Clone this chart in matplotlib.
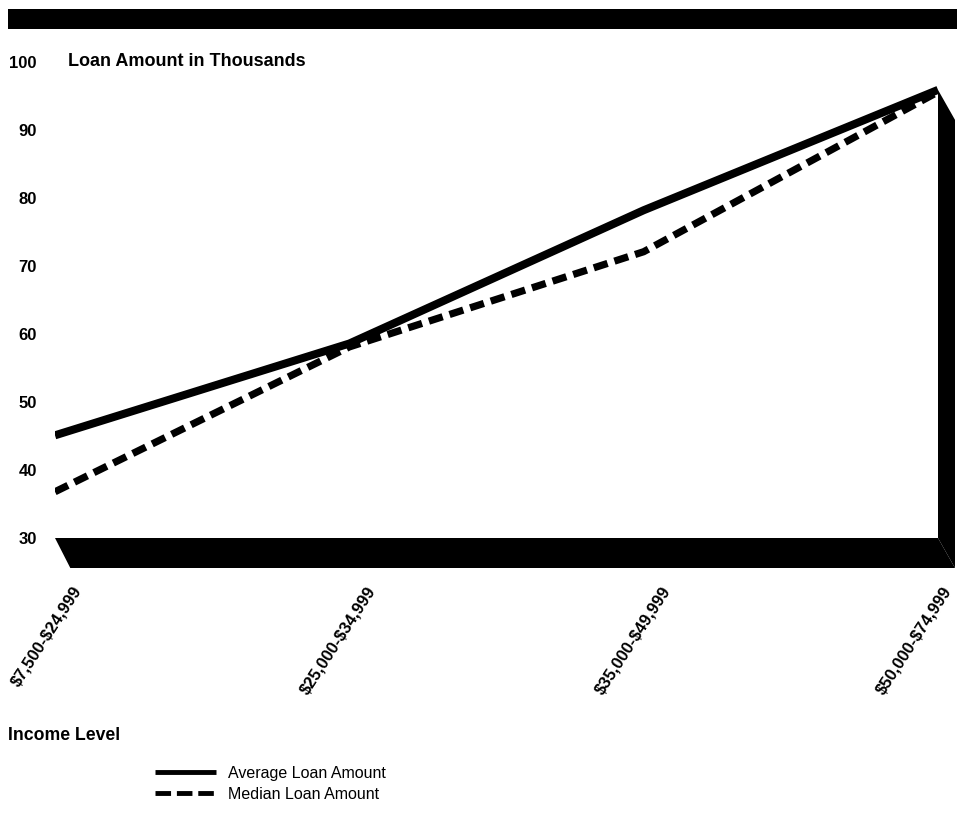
import matplotlib
matplotlib.use("Agg")
import matplotlib.pyplot as plt
from matplotlib.patches import Polygon, Rectangle
from matplotlib.lines import Line2D
import matplotlib.transforms as mtransforms

plt.rcParams['font.family'] = ['Liberation Sans', 'DejaVu Sans']

categories = ["$7,500-$24,999", "$25,000-$34,999", "$35,000-$49,999", "$50,000-$74,999"]
average_loan = [45.1, 58.6, 78.2, 95.9]
median_loan = [36.8, 58.1, 72.1, 95.6]
yticks = [30, 40, 50, 60, 70, 80, 90, 100]

W, H = 957, 819
fig = plt.figure(figsize=(W / 100, H / 100), dpi=100)
fig.patch.set_facecolor('white')

L, R, T, B = 55, 938, 62, 538
ax = fig.add_axes([L / W, 1 - B / H, (R - L) / W, (B - T) / H])
x = list(range(len(categories)))
ax.set_xlim(0, len(categories) - 1)
ax.set_ylim(30, 100)
for s in ax.spines.values():
    s.set_visible(False)

ax.plot(x, average_loan, color='black', lw=5.8, solid_capstyle='butt', zorder=3)
ax.plot(x, median_loan, color='black', lw=5.2, dashes=(2.0, 1.0), dash_capstyle='butt', zorder=3)

# 3D floor and wall
dx = 17 / (R - L)
dy = 30 / (B - T)
floor = Polygon([(0, 0), (1, 0), (1 + dx, -dy), (dx * 0.9, -dy)], closed=True,
                transform=ax.transAxes, facecolor='black', edgecolor='none', clip_on=False, zorder=2)
ax.add_patch(floor)
ytop = (max(average_loan) - 30) / 70
wall = Polygon([(1, ytop), (1 + dx, ytop - dy), (1 + dx, -dy), (1, 0)], closed=True,
               transform=ax.transAxes, facecolor='black', edgecolor='none', clip_on=False, zorder=2)
ax.add_patch(wall)

# y ticks
ax.set_yticks(yticks)
ax.set_yticklabels([str(v) for v in yticks], fontsize=12, fontweight='bold')
ax.tick_params(axis='y', length=0, pad=13)
ax.set_xticks([])

# x tick labels, rotated
label_shift = [23, 23, 23, 10]
for xi, lab, sh in zip(x, categories, label_shift):
    offset = mtransforms.ScaledTranslation(sh / 100, 0, fig.dpi_scale_trans)
    trans = mtransforms.blended_transform_factory(ax.transData, fig.transFigure) + offset
    ax.text(xi, 1 - 588 / H, lab.replace('$', r'\$'), transform=trans, rotation=57,
            rotation_mode='anchor', ha='right', va='center', fontsize=12, fontweight='bold',
            clip_on=False)

# top bar
fig.patches.append(Rectangle((8 / W, 1 - 29 / H), (W - 8) / W, 20 / H, transform=fig.transFigure,
                             facecolor='black', edgecolor='none'))

fig.text(68 / W, 1 - 62 / H, "Loan Amount in Thousands", fontsize=13, fontweight='bold',
         ha='left', va='center')
fig.text(8 / W, 1 - 735 / H, "Income Level", fontsize=12.7, fontweight='bold', ha='left', va='center')

h1 = Line2D([], [], color='black', lw=3.5, solid_capstyle='butt')
h2 = Line2D([], [], color='black', lw=3.5, dashes=(3.2, 1.2), dash_capstyle='butt')
fig.legend([h1, h2], ["Average Loan Amount", "Median Loan Amount"], loc='upper left',
           bbox_to_anchor=(155 / W, 1 - 766 / H), frameon=False, fontsize=11.5,
           handlelength=3.8, handletextpad=0.8, labelspacing=0.35, borderpad=0, borderaxespad=0)

fig.savefig("out.png", dpi=100, facecolor='white')
